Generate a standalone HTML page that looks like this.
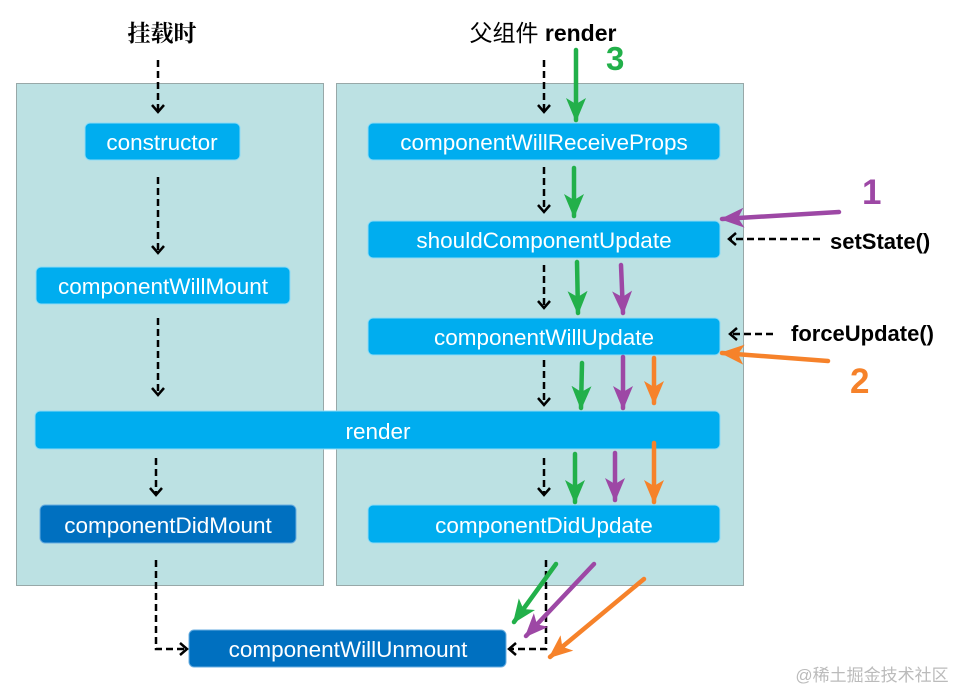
<!DOCTYPE html>
<html><head><meta charset="utf-8"><style>
html,body{margin:0;padding:0;background:#fff;}
svg{display:block;}
.b{font-family:"Liberation Sans","Noto Sans CJK SC",sans-serif;font-size:22.5px;fill:#fff;text-anchor:middle;}
</style></head><body>
<svg width="960" height="690" viewBox="0 0 960 690" xmlns="http://www.w3.org/2000/svg">
<defs>
<marker id="ch" markerUnits="userSpaceOnUse" markerWidth="14" markerHeight="14" refX="10" refY="7" orient="auto"><path d="M3,1 L10,7 L3,13" fill="none" stroke="#000" stroke-width="2.5"/></marker>
<marker id="g" markerUnits="userSpaceOnUse" markerWidth="24" markerHeight="24" refX="22" refY="12" orient="auto"><path d="M0,2 L24,12 L0,22 L6,12z" fill="#22b04a"/></marker>
<marker id="p" markerUnits="userSpaceOnUse" markerWidth="24" markerHeight="24" refX="22" refY="12" orient="auto"><path d="M0,2 L24,12 L0,22 L6,12z" fill="#9d48a5"/></marker>
<marker id="o" markerUnits="userSpaceOnUse" markerWidth="24" markerHeight="24" refX="22" refY="12" orient="auto"><path d="M0,2 L24,12 L0,22 L6,12z" fill="#f6822a"/></marker>
</defs>
<rect x="16.5" y="83.5" width="307" height="502" fill="#bce1e3" stroke="#98a8a8"/>
<rect x="336.5" y="83.5" width="407" height="502" fill="#bce1e3" stroke="#98a8a8"/>
<text x="162" y="41" font-family="'Noto Serif CJK SC',serif" font-size="23" font-weight="bold" text-anchor="middle">挂载时</text>
<text x="543" y="41" font-family="'Liberation Sans','Noto Sans CJK SC',sans-serif" font-size="23" text-anchor="middle"><tspan>父组件 </tspan><tspan font-weight="bold">render</tspan></text>
<g fill="#00adef" stroke="#8fdcf5" stroke-width="1">
<rect x="85" y="123" width="155" height="37" rx="5"/>
<rect x="36" y="267" width="254" height="37" rx="5"/>
<rect x="35" y="411" width="685" height="38" rx="5"/>
<rect x="368" y="123" width="352" height="37" rx="5"/>
<rect x="368" y="221" width="352" height="37" rx="5"/>
<rect x="368" y="318" width="352" height="37" rx="5"/>
<rect x="368" y="505" width="352" height="38" rx="5"/>
</g>
<g fill="#0070c0" stroke="#6aaee0"><rect x="40" y="505" width="256" height="38" rx="5"/><rect x="189" y="630" width="317" height="37" rx="5"/></g>
<text class="b" x="162" y="150">constructor</text>
<text class="b" x="163" y="294">componentWillMount</text>
<text class="b" x="378" y="439">render</text>
<text class="b" x="168" y="533">componentDidMount</text>
<text class="b" x="544" y="150">componentWillReceiveProps</text>
<text class="b" x="544" y="248">shouldComponentUpdate</text>
<text class="b" x="544" y="345">componentWillUpdate</text>
<text class="b" x="544" y="533">componentDidUpdate</text>
<text class="b" x="348" y="657">componentWillUnmount</text>
<g stroke="#000" stroke-width="2.5" stroke-dasharray="7,4" fill="none" marker-end="url(#ch)">
<line x1="158" y1="60" x2="158" y2="112"/>
<line x1="158" y1="177" x2="158" y2="253"/>
<line x1="158" y1="318" x2="158" y2="395"/>
<line x1="156" y1="458" x2="156" y2="495"/>
<polyline points="156,560 156,649 187,649"/>
<line x1="544" y1="60" x2="544" y2="112"/>
<line x1="544" y1="167" x2="544" y2="212"/>
<line x1="544" y1="265" x2="544" y2="308"/>
<line x1="544" y1="360" x2="544" y2="405"/>
<line x1="544" y1="458" x2="544" y2="495"/>
<polyline points="546,560 546,649 509,649"/>
<line x1="820" y1="239" x2="729" y2="239"/>
<line x1="773" y1="334" x2="730" y2="334"/>
</g>
<g stroke-width="4.5" stroke-linecap="round" fill="none">
<g stroke="#22b04a" marker-end="url(#g)">
<line x1="576" y1="50" x2="576" y2="120"/>
<line x1="574" y1="168" x2="574" y2="216"/>
<line x1="577" y1="262" x2="578" y2="313"/>
<line x1="582" y1="363" x2="581" y2="408"/>
<line x1="575" y1="454" x2="575" y2="502"/>
<line x1="556" y1="564" x2="514" y2="622"/>
</g>
<g stroke="#9d48a5" marker-end="url(#p)">
<line x1="839" y1="212" x2="722" y2="219"/>
<line x1="621" y1="265" x2="623" y2="313"/>
<line x1="623" y1="357" x2="623" y2="408"/>
<line x1="615" y1="453" x2="615" y2="500"/>
<line x1="594" y1="564" x2="526" y2="636"/>
</g>
<g stroke="#f6822a" marker-end="url(#o)">
<line x1="828" y1="361" x2="722" y2="353"/>
<line x1="654" y1="358" x2="654" y2="403"/>
<line x1="654" y1="443" x2="654" y2="502"/>
<line x1="644" y1="579" x2="550" y2="657"/>
</g>
</g>
<g font-family="'Liberation Sans',sans-serif" font-weight="bold">
<text x="606" y="70" font-size="33" fill="#22b04a">3</text>
<text x="862" y="204" font-size="35" fill="#9d48a5">1</text>
<text x="850" y="393" font-size="35" fill="#f6822a">2</text>
<text x="830" y="249" font-size="22" fill="#000">setState()</text>
<text x="791" y="341" font-size="22" fill="#000">forceUpdate()</text>
</g>
<text x="872" y="681" font-family="'Liberation Sans','Noto Sans CJK SC',sans-serif" font-size="17" fill="#bbb" text-anchor="middle">@稀土掘金技术社区</text>
</svg>
</body></html>
